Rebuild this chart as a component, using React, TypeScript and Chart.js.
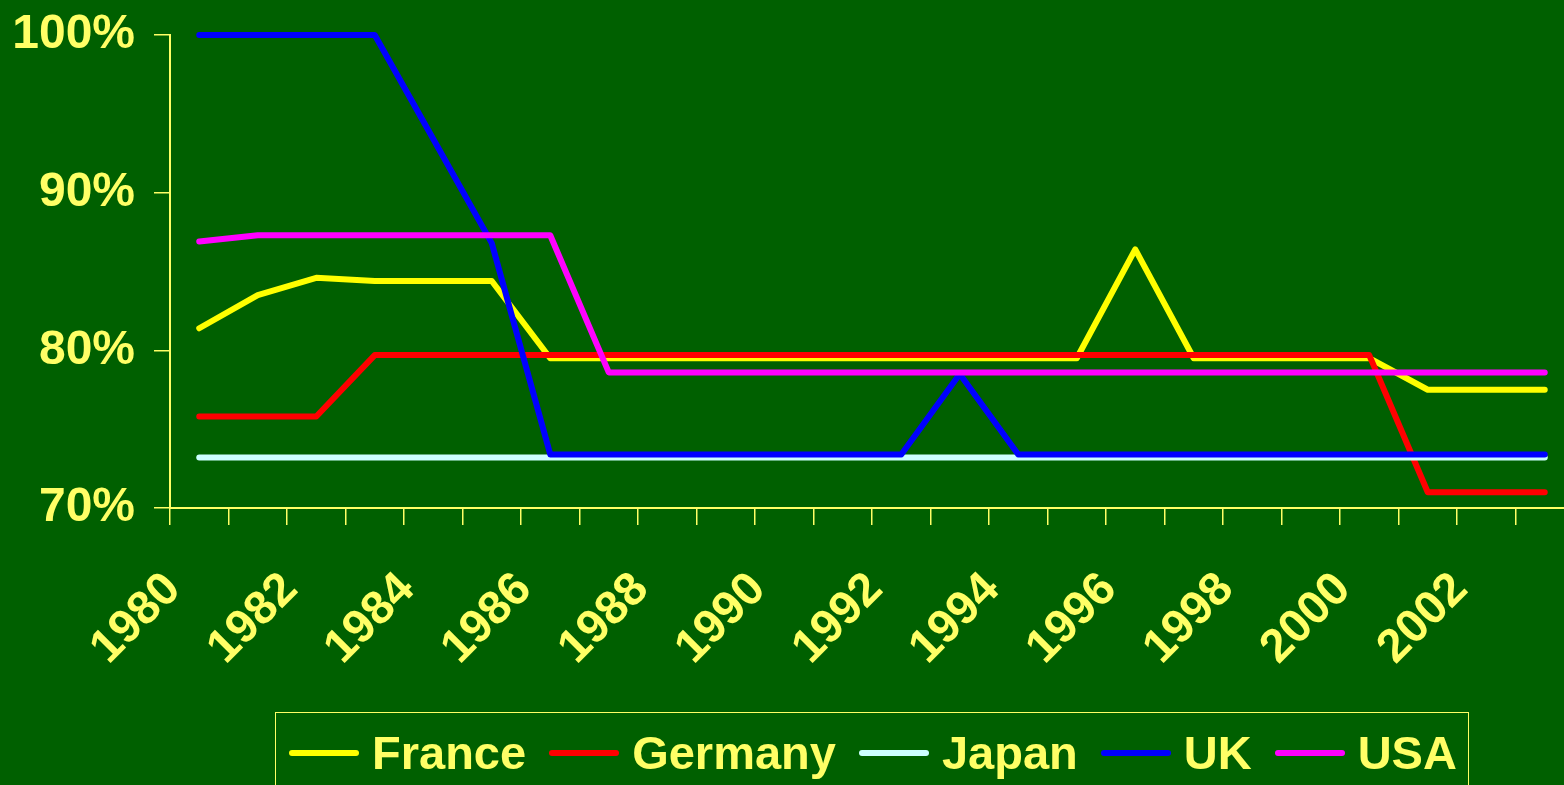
import React, { useEffect, useRef } from 'react';
import { Chart, registerables } from 'chart.js';

Chart.register(...registerables);

// Categories (one per year)
const years = [
  '1980', '1981', '1982', '1983', '1984', '1985', '1986', '1987',
  '1988', '1989', '1990', '1991', '1992', '1993', '1994', '1995',
  '1996', '1997', '1998', '1999', '2000', '2001', '2002', '2003',
];

// Series values, in percent
const france = [
  81.4, 83.5, 84.6, 84.4, 84.4, 84.4, 79.5, 79.5,
  79.5, 79.5, 79.5, 79.5, 79.5, 79.5, 79.5, 79.5,
  86.4, 79.5, 79.5, 79.5, 79.5, 77.5, 77.5, 77.5,
];
const germany = [
  75.8, 75.8, 75.8, 79.7, 79.7, 79.7, 79.7, 79.7,
  79.7, 79.7, 79.7, 79.7, 79.7, 79.7, 79.7, 79.7,
  79.7, 79.7, 79.7, 79.7, 79.7, 71.0, 71.0, 71.0,
];
const japan = [
  73.2, 73.2, 73.2, 73.2, 73.2, 73.2, 73.2, 73.2,
  73.2, 73.2, 73.2, 73.2, 73.2, 73.2, 73.2, 73.2,
  73.2, 73.2, 73.2, 73.2, 73.2, 73.2, 73.2, 73.2,
];
const uk = [
  100, 100, 100, 100, 93.4, 86.8, 73.4, 73.4,
  73.4, 73.4, 73.4, 73.4, 73.4, 78.5, 73.4, 73.4,
  73.4, 73.4, 73.4, 73.4, 73.4, 73.4, 73.4, 73.4,
];
const usa = [
  86.9, 87.3, 87.3, 87.3, 87.3, 87.3, 87.3, 78.6,
  78.6, 78.6, 78.6, 78.6, 78.6, 78.6, 78.6, 78.6,
  78.6, 78.6, 78.6, 78.6, 78.6, 78.6, 78.6, 78.6,
];

const seriesNames = ['France', 'Germany', 'Japan', 'UK', 'USA'];
const seriesValues = [france, germany, japan, uk, usa];
const seriesColors = ['#FFFF00', '#FF0000', '#CCFFFF', '#0000FF', '#FF00FF'];

// Value axis range
const yMin = 70;
const yMax = 100;
const yStep = 10;

const BG = '#006000';
const INK = '#FFFF66';
const FONT = '"Liberation Sans", Arial, Helvetica, sans-serif';
const LINE_W = 6;

const CANVAS_W = 1600;
const CANVAS_H = 785;

// Keep the plot area where the layout padding puts it: drop the extra
// room Chart.js reserves for overhanging tick labels.
function clearScalePadding(scale: any) {
  scale.paddingTop = 0;
  scale.paddingBottom = 0;
  scale.paddingLeft = 0;
  scale.paddingRight = 0;
}

export default function App() {
  const canvasRef = useRef<HTMLCanvasElement | null>(null);

  useEffect(() => {
    const canvas = canvasRef.current;
    if (!canvas) return;

    const datasets = seriesNames.map((name, i) => ({
      label: name,
      data: seriesValues[i],
      borderColor: seriesColors[i],
      backgroundColor: seriesColors[i],
      borderWidth: LINE_W,
      borderCapStyle: 'round' as const,
      borderJoinStyle: 'round' as const,
      pointRadius: 0,
      pointHoverRadius: 0,
      tension: 0,
      fill: false,
      clip: LINE_W,
      // later series are painted over earlier ones
      order: seriesNames.length - 1 - i,
    }));

    const chart = new Chart(canvas, {
      type: 'line',
      data: { labels: years, datasets },
      options: {
        animation: false,
        responsive: false,
        maintainAspectRatio: false,
        devicePixelRatio: 1,
        events: [],
        layout: { autoPadding: false, padding: { left: 0, top: 35, right: 26, bottom: 0 } },
        plugins: {
          legend: { display: false },
          tooltip: { enabled: false },
          title: { display: false },
        },
        scales: {
          x: {
            type: 'category',
            offset: true,
            grid: {
              offset: true,
              drawOnChartArea: false,
              drawTicks: true,
              tickLength: 17,
              color: INK,
              lineWidth: 1.5,
            },
            border: { display: true, color: INK, width: 2 },
            ticks: {
              autoSkip: false,
              maxRotation: 45,
              minRotation: 45,
              padding: 37,
              labelOffset: -26,
              color: INK,
              font: { family: FONT, size: 47, weight: 'bold' },
              callback: function (this: any, value: any) {
                const label = this.getLabelForValue(value);
                return Number(label) % 2 === 0 ? label : '';
              },
            },
            afterFit: (scale: any) => {
              scale.height = CANVAS_H - 508;
              clearScalePadding(scale);
            },
          },
          y: {
            type: 'linear',
            min: yMin,
            max: yMax,
            grid: {
              drawOnChartArea: false,
              drawTicks: true,
              tickLength: 16,
              color: INK,
              lineWidth: 1.5,
            },
            border: { display: true, color: INK, width: 2 },
            ticks: {
              stepSize: yStep,
              padding: 19,
              color: INK,
              font: { family: FONT, size: 48, weight: 'bold' },
              callback: (value: any) => `${value}%`,
            },
            afterFit: (scale: any) => {
              scale.width = 170;
              clearScalePadding(scale);
            },
          },
        },
      },
    });

    return () => {
      chart.destroy();
    };
  }, []);

  return (
    <div
      style={{
        position: 'fixed',
        left: 0,
        top: 0,
        width: '100vw',
        height: '100vh',
        overflow: 'hidden',
        background: BG,
      }}
    >
      <canvas
        ref={canvasRef}
        width={CANVAS_W}
        height={CANVAS_H}
        style={{ position: 'absolute', left: 0, top: 0, width: CANVAS_W, height: CANVAS_H, display: 'block' }}
      />
      <div
        style={{
          position: 'absolute',
          left: 275,
          top: 712,
          width: 1194,
          height: 140,
          border: `1.5px solid ${INK}`,
          boxSizing: 'border-box',
        }}
      >
        <div
          style={{
            position: 'absolute',
            left: 13,
            top: 16,
            display: 'flex',
            alignItems: 'center',
            gap: 23,
            whiteSpace: 'nowrap',
          }}
        >
          {seriesNames.map((name, i) => (
            <div key={name} style={{ display: 'flex', alignItems: 'center' }}>
              <span
                style={{
                  display: 'inline-block',
                  width: 70,
                  height: LINE_W,
                  borderRadius: LINE_W / 2,
                  background: seriesColors[i],
                  marginRight: 13,
                }}
              />
              <span
                style={{
                  fontFamily: FONT,
                  fontWeight: 'bold',
                  fontSize: 47,
                  lineHeight: '48px',
                  color: INK,
                }}
              >
                {name}
              </span>
            </div>
          ))}
        </div>
      </div>
    </div>
  );
}
